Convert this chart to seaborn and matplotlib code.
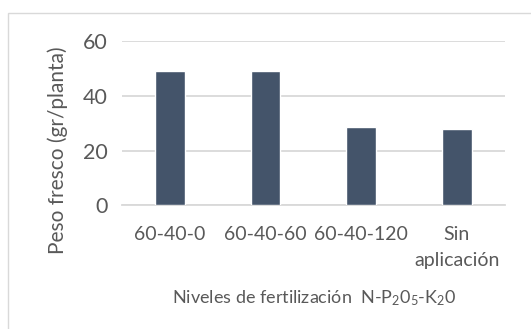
import matplotlib
matplotlib.use("Agg")
import matplotlib.pyplot as plt
import seaborn as sns
import pandas as pd
from matplotlib.patches import Rectangle

# Fresh weight per plant by fertilization level
categories = ["60-40-0", "60-40-60", "60-40-120", "Sin\naplicación"]
peso_fresco = [49.2, 49.2, 28.5, 27.8]
yticks = [0, 20, 40, 60]

df = pd.DataFrame({"nivel": categories, "peso": peso_fresco})

sns.set_theme(style="white")
plt.rcParams["font.family"] = ["Lato", "DejaVu Sans"]
plt.rcParams["mathtext.fontset"] = "custom"
plt.rcParams["mathtext.rm"] = "Lato"
plt.rcParams["mathtext.it"] = "Lato:italic"
plt.rcParams["mathtext.bf"] = "Lato:bold"

text_color = "#595959"
grid_color = "#D9D9D9"
bar_color = "#44546A"

W, H = 531, 329
# plot area in pixels
x0, x1, y_top, y_bot = 122, 504.6, 41.3, 205.2
fig = plt.figure(figsize=(W / 100, H / 100), dpi=100)
ax = fig.add_axes([x0 / W, 1 - y_bot / H, (x1 - x0) / W, (y_bot - y_top) / H])

sns.barplot(data=df, x="nivel", y="peso", color=bar_color, width=0.31,
            saturation=1, ax=ax, zorder=3)

ax.set_ylim(0, 60)
ax.set_yticks(yticks)
ax.yaxis.grid(True, color=grid_color, linewidth=1.3, zorder=0)
ax.set_axisbelow(True)
for side in ["top", "right", "left"]:
    ax.spines[side].set_visible(False)
ax.spines["bottom"].set_color(grid_color)
ax.spines["bottom"].set_linewidth(1.3)

ax.tick_params(axis="y", length=0, pad=10, labelsize=15.5, labelcolor=text_color)
ax.tick_params(axis="x", length=0, pad=15, labelsize=14, labelcolor=text_color)
for lbl in ax.get_xticklabels():
    lbl.set_linespacing(1.65)
    lbl.set_verticalalignment("top")

ax.set_ylabel("Peso fresco (gr/planta)", fontsize=15, color=text_color)
ax.yaxis.set_label_coords((57.6 - x0) / (x1 - x0), (y_bot - 150.5) / (y_bot - y_top))
ax.yaxis.label.set_verticalalignment("center")

ax.set_xlabel(r"Niveles de fertilización  N-P$_2$0$_5$-K$_2$0", fontsize=13,
              color=text_color)
ax.xaxis.set_label_coords((314 - x0) / (x1 - x0), -(298 - y_bot) / (y_bot - y_top))
ax.xaxis.label.set_verticalalignment("center")

# Chart frame
fig.patches.append(Rectangle((7.5 / W, -0.1), 1.2, 1 - 12.5 / H + 0.1,
                             transform=fig.transFigure, fill=False,
                             edgecolor="#D9D9D9", linewidth=1.0))

fig.savefig("out.png", dpi=100)
